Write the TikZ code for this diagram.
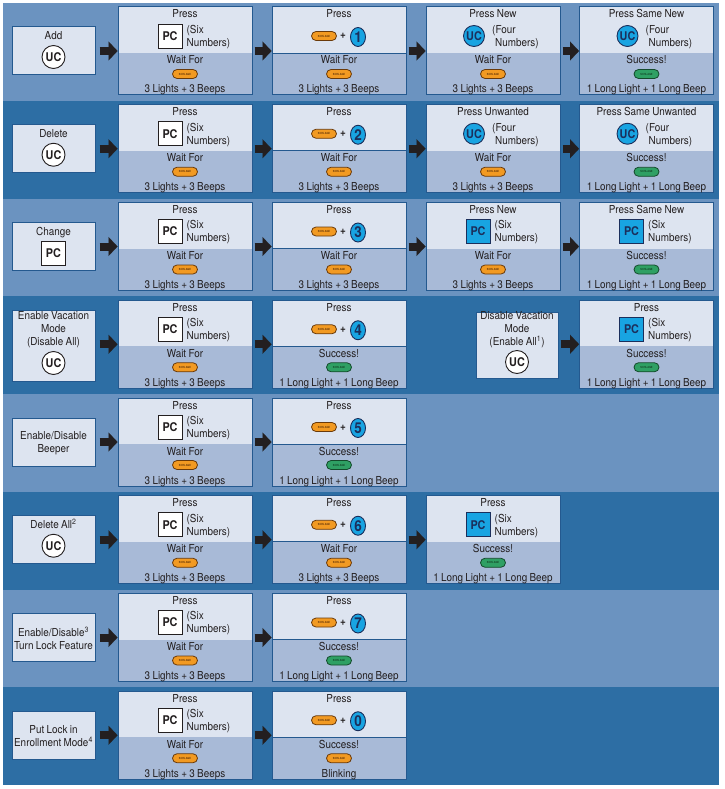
\documentclass[tikz,border=0pt]{standalone}
\usepackage{fontspec}
\setmainfont[WordSpace=0.85,FakeStretch=0.9]{TeX Gyre Heros}
\usetikzlibrary{arrows.meta,shapes.misc,shapes.geometric}
\definecolor{bandL}{HTML}{6B93C0}
\definecolor{bandD}{HTML}{2D6EA4}
\definecolor{topF}{HTML}{DDE4F0}
\definecolor{botF}{HTML}{A8BAD7}
\definecolor{frameC}{HTML}{24598F}
\definecolor{ink}{HTML}{231F20}
\definecolor{cyanB}{HTML}{18A4E2}
\definecolor{navy}{HTML}{1B2F5C}
\definecolor{ledO}{HTML}{F29A22}
\definecolor{ledOb}{HTML}{6A3A0A}
\definecolor{ledG}{HTML}{2FA064}
\definecolor{ledGb}{HTML}{144A2B}
\tikzset{
  txtbase/.style={inner sep=0pt, text=ink, font=\fontsize{11}{13}\selectfont},
  txt/.style={txtbase, text height=8pt, text depth=2pt},
  note/.style={txtbase, align=left, anchor=west},
  ltxt/.style={txtbase, align=center},
  topbox/.style={fill=topF, minimum width=134pt, minimum height=46pt, anchor=north, inner sep=0pt, outer sep=0pt},
  botbox/.style={fill=botF, minimum width=134pt, minimum height=42pt, anchor=north, inner sep=0pt, outer sep=0pt},
  frame/.style={draw=frameC, line width=1pt, minimum width=134pt, minimum height=88pt, inner sep=0pt},
  labelbox/.style={draw=frameC, fill=topF, line width=1pt, inner sep=0pt, minimum width=83pt},
  ucwhite/.style={circle, draw=ink, fill=white, line width=0.9pt, minimum size=23pt, inner sep=0pt, font=\fontsize{12}{12}\selectfont\bfseries, text=ink},
  ucblue/.style={circle, draw=navy, fill=cyanB, line width=0.9pt, minimum size=21pt, inner sep=0pt, font=\fontsize{12}{12}\selectfont\bfseries, text=navy},
  pcwhite/.style={rectangle, draw=ink, fill=white, line width=0.9pt, minimum size=24pt, inner sep=0pt, font=\fontsize{12}{12}\selectfont\bfseries, text=ink},
  pcblue/.style={pcwhite, draw=navy, fill=cyanB, text=navy},
  numoval/.style={ellipse, draw=navy, fill=cyanB, line width=0.9pt, minimum width=15pt, minimum height=19pt, inner sep=0pt, font=\fontsize{15}{15}\selectfont\bfseries, text=navy},
  pill/.style={rounded rectangle, line width=0.8pt, minimum width=25pt, minimum height=9pt, inner sep=0pt, font=\fontsize{2.8}{3}\selectfont\bfseries},
  ledorange/.style={pill, draw=ledOb, fill=ledO, text=ledOb},
  ledgreen/.style={pill, draw=ledGb, fill=ledG, text=ledGb},
  fatarrow/.style={draw=ink, line width=8pt, -{Triangle[length=9pt,width=19pt,line width=0.1pt]}, shorten <=2pt},
  splitline/.style={draw=frameC, line width=0.9pt},
}
\newcommand\StepBox[8]{%
  \def\nm{#1}\def\cx{#2}\def\T{#3}%
  \node[topbox] (#1-top) at (#2,#3+4) {};
  \node[botbox] (#1-bot) at (#2,#3+50) {};
  \node[frame] (#1) at (#2,#3+48) {};
  \node[txt] (#1-head) at (#2,#3+12) {#4};
  #5
  \node[txt] (#1-wait) at (#2,#3+58) {#6};
  \node[#7] (#1-led) at (#2,#3+71) {SCHLAGE};
  \node[txt] (#1-res) at (#2,#3+87) {#8};
}
\newcommand\PCsix[1]{%
  \node[#1] (\nm-icon) at (\cx-15,\T+33) {PC};
  \node[note] (\nm-note) at (\cx+1.5,\T+34) {(Six\\Numbers)};
}
\newcommand\UCfour{%
  \node[ucblue] (\nm-icon) at (\cx-19,\T+33) {UC};
  \node[note] (\nm-note) at (\cx-1,\T+34) {(Four\\\hspace*{3pt}Numbers)};
}
\newcommand\BtnNum[1]{%
  \node[ledorange] (\nm-btn) at (\cx-15,\T+33) {SCHLAGE};
  \node[txt,font=\fontsize{11}{13}\selectfont\bfseries] (\nm-plus) at (\cx+4,\T+33) {+};
  \node[numoval] (\nm-num) at (\cx+19,\T+34) {#1};
}
\newcommand\SplitLine[1]{\draw[splitline] (#1-bot.north west) -- (#1-bot.north east);}
\begin{document}
\begin{tikzpicture}[x=1pt,y=-1pt]
\useasboundingbox (0,0) rectangle (724,789);
\fill[white] (0,0) rectangle (724,789);
% bands
\fill[bandL] (3,3) rectangle (719,100.75);
\fill[bandD] (3,100.75) rectangle (719,198.5);
\fill[bandL] (3,198.5) rectangle (719,296.25);
\fill[bandD] (3,296.25) rectangle (719,394);
\fill[bandL] (3,394) rectangle (719,491.75);
\fill[bandD] (3,491.75) rectangle (719,589.5);
\fill[bandL] (3,589.5) rectangle (719,687.25);
\fill[bandD] (3,687.25) rectangle (719,785);

% ---------- Row 0: Add
\node[labelbox,minimum height=48pt] (L0) at (53.5,51) {};
\node[txt] (L0-t) at (53.5,37) {Add};
\node[ucwhite] (L0-i) at (53.5,57) {UC};
\StepBox{A1}{185}{3}{Press}{\PCsix{pcwhite}}{Wait For}{ledorange}{3 Lights + 3 Beeps}
\StepBox{A2}{339}{3}{Press}{\BtnNum{1}}{Wait For}{ledorange}{3 Lights + 3 Beeps}
\SplitLine{A2}
\StepBox{A3}{493}{3}{Press New}{\UCfour}{Wait For}{ledorange}{3 Lights + 3 Beeps}
\StepBox{A4}{646.5}{3}{Press Same New}{\UCfour}{Success!}{ledgreen}{1 Long Light + 1 Long Beep}
\draw[fatarrow,shorten <=4pt] (L0.east) -- (A1.west);
\draw[fatarrow] (A1.east) -- (A2.west);
\draw[fatarrow] (A2.east) -- (A3.west);
\draw[fatarrow] (A3.east) -- (A4.west);

% ---------- Row 1: Delete
\node[labelbox,minimum height=48pt] (L1) at (53.5,148.75) {};
\node[txt] (L1-t) at (53.5,134.75) {Delete};
\node[ucwhite] (L1-i) at (53.5,154.75) {UC};
\StepBox{B1}{185}{100.75}{Press}{\PCsix{pcwhite}}{Wait For}{ledorange}{3 Lights + 3 Beeps}
\StepBox{B2}{339}{100.75}{Press}{\BtnNum{2}}{Wait For}{ledorange}{3 Lights + 3 Beeps}
\SplitLine{B2}
\StepBox{B3}{493}{100.75}{Press Unwanted}{\UCfour}{Wait For}{ledorange}{3 Lights + 3 Beeps}
\StepBox{B4}{646.5}{100.75}{Press Same Unwanted}{\UCfour}{Success!}{ledgreen}{1 Long Light + 1 Long Beep}
\draw[fatarrow,shorten <=4pt] (L1.east) -- (B1.west);
\draw[fatarrow] (B1.east) -- (B2.west);
\draw[fatarrow] (B2.east) -- (B3.west);
\draw[fatarrow] (B3.east) -- (B4.west);

% ---------- Row 2: Change
\node[labelbox,minimum height=48pt] (L2) at (53.5,246.5) {};
\node[txt] (L2-t) at (53.5,232.5) {Change};
\node[pcwhite] (L2-i) at (53.5,253) {PC};
\StepBox{C1}{185}{198.5}{Press}{\PCsix{pcwhite}}{Wait For}{ledorange}{3 Lights + 3 Beeps}
\StepBox{C2}{339}{198.5}{Press}{\BtnNum{3}}{Wait For}{ledorange}{3 Lights + 3 Beeps}
\SplitLine{C2}
\StepBox{C3}{493}{198.5}{Press New}{\PCsix{pcblue}}{Wait For}{ledorange}{3 Lights + 3 Beeps}
\StepBox{C4}{646.5}{198.5}{Press Same New}{\PCsix{pcblue}}{Success!}{ledgreen}{1 Long Light + 1 Long Beep}
\draw[fatarrow,shorten <=4pt] (L2.east) -- (C1.west);
\draw[fatarrow] (C1.east) -- (C2.west);
\draw[fatarrow] (C2.east) -- (C3.west);
\draw[fatarrow] (C3.east) -- (C4.west);

% ---------- Row 3: Vacation mode
\node[labelbox,minimum height=71pt] (L3) at (53.5,345.5) {};
\node[ltxt] (L3-t) at (53.5,329.5) {Enable Vacation\\Mode\\(Disable All)};
\node[ucwhite] (L3-i) at (53.5,363) {UC};
\StepBox{D1}{185}{296.25}{Press}{\PCsix{pcwhite}}{Wait For}{ledorange}{3 Lights + 3 Beeps}
\StepBox{D2}{339}{296.25}{Press}{\BtnNum{4}}{Success!}{ledgreen}{1 Long Light + 1 Long Beep}
\SplitLine{D2}
\node[labelbox,minimum width=82pt,minimum height=66pt] (L3b) at (517,345) {};
\node[ltxt] (L3b-t) at (517,330) {Disable Vacation\\Mode\\(Enable All\textsuperscript{1})};
\node[ucwhite] (L3b-i) at (517,362) {UC};
\StepBox{D4}{646.5}{296.25}{Press}{\PCsix{pcblue}}{Success!}{ledgreen}{1 Long Light + 1 Long Beep}
\draw[fatarrow,shorten <=4pt] (L3.east |- D1.west) -- (D1.west);
\draw[fatarrow] (D1.east) -- (D2.west);
\draw[fatarrow] (L3b.east |- D4.west) -- (D4.west);

% ---------- Row 4: Beeper
\node[labelbox,minimum height=48pt] (L4) at (53.5,442) {};
\node[ltxt] (L4-t) at (53.5,443) {Enable/Disable\\Beeper};
\StepBox{E1}{185}{394}{Press}{\PCsix{pcwhite}}{Wait For}{ledorange}{3 Lights + 3 Beeps}
\StepBox{E2}{339}{394}{Press}{\BtnNum{5}}{Success!}{ledgreen}{1 Long Light + 1 Long Beep}
\SplitLine{E2}
\draw[fatarrow,shorten <=4pt] (L4.east) -- (E1.west);
\draw[fatarrow] (E1.east) -- (E2.west);

% ---------- Row 5: Delete All
\node[labelbox,minimum height=48pt] (L5) at (53.5,539.75) {};
\node[txt] (L5-t) at (53.5,525.75) {Delete All\textsuperscript{2}};
\node[ucwhite] (L5-i) at (53.5,545.75) {UC};
\StepBox{F1}{185}{491.75}{Press}{\PCsix{pcwhite}}{Wait For}{ledorange}{3 Lights + 3 Beeps}
\StepBox{F2}{339}{491.75}{Press}{\BtnNum{6}}{Wait For}{ledorange}{3 Lights + 3 Beeps}
\SplitLine{F2}
\StepBox{F3}{493}{491.75}{Press}{\PCsix{pcblue}}{Success!}{ledgreen}{1 Long Light + 1 Long Beep}
\draw[fatarrow,shorten <=4pt] (L5.east) -- (F1.west);
\draw[fatarrow] (F1.east) -- (F2.west);
\draw[fatarrow] (F2.east) -- (F3.west);

% ---------- Row 6: Turn lock feature
\node[labelbox,minimum height=48pt] (L6) at (53.5,637.5) {};
\node[ltxt] (L6-t) at (53.5,638.5) {Enable/Disable\textsuperscript{3}\\Turn Lock Feature};
\StepBox{G1}{185}{589.5}{Press}{\PCsix{pcwhite}}{Wait For}{ledorange}{3 Lights + 3 Beeps}
\StepBox{G2}{339}{589.5}{Press}{\BtnNum{7}}{Success!}{ledgreen}{1 Long Light + 1 Long Beep}
\SplitLine{G2}
\draw[fatarrow,shorten <=4pt] (L6.east) -- (G1.west);
\draw[fatarrow] (G1.east) -- (G2.west);

% ---------- Row 7: Enrollment mode
\node[labelbox,minimum height=48pt] (L7) at (53.5,735.25) {};
\node[ltxt] (L7-t) at (53.5,736.25) {Put Lock in\\Enrollment Mode\textsuperscript{4}};
\StepBox{H1}{185}{687.25}{Press}{\PCsix{pcwhite}}{Wait For}{ledorange}{3 Lights + 3 Beeps}
\StepBox{H2}{339}{687.25}{Press}{\BtnNum{0}}{Success!}{ledorange}{Blinking}
\SplitLine{H2}
\draw[fatarrow,shorten <=4pt] (L7.east) -- (H1.west);
\draw[fatarrow] (H1.east) -- (H2.west);
\end{tikzpicture}
\end{document}
